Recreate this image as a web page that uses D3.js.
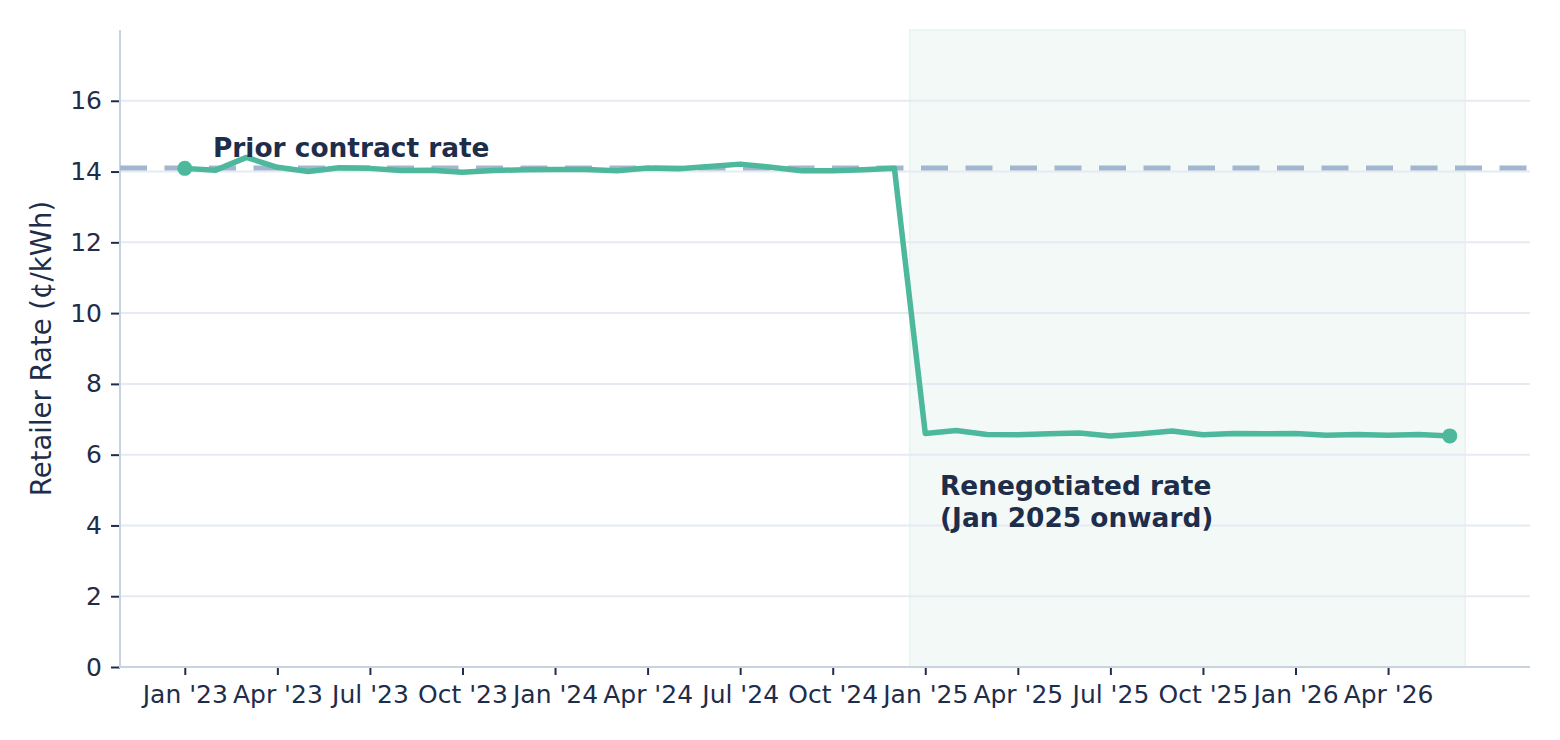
<!DOCTYPE html>
<html lang="en">

<head>
    <meta charset="UTF-8">
    <title>Retailer Rate</title>
    <script src="https://d3js.org/d3.v7.min.js"></script>
    <style>
        body {
            margin: 0;
            background-color: #ffffff;
            font-family: "DejaVu Sans", sans-serif;
        }

        .grid line {
            stroke: #e6ebf1;
            stroke-width: 2px;
        }

        .axis text {
            font-family: "DejaVu Sans", sans-serif;
            font-size: 25px;
            fill: #1e2d4a;
        }

        .axis .tick line {
            stroke: #1e2d4a;
            stroke-width: 2px;
        }

        .axis path {
            display: none;
        }

        .spine {
            stroke: #c9d3e0;
            stroke-width: 2px;
        }

        .note {
            font-size: 26.4px;
            font-weight: bold;
            fill: #1e2d4a;
        }
    </style>
</head>

<body>
    <svg id="chart" width="1560" height="740"></svg>

    <script>
        // monthly retailer rate, Jan 2023 .. Jun 2026 (cents/kWh)
        const rates2023 = [14.09, 14.04, 14.40, 14.12, 14.00, 14.11, 14.09, 14.03, 14.04, 13.98, 14.03, 14.05];
        const rates2024 = [14.06, 14.06, 14.02, 14.10, 14.08, 14.14, 14.21, 14.12, 14.02, 14.02, 14.05, 14.09];
        const rates2025 = [6.60, 6.68, 6.57, 6.56, 6.59, 6.61, 6.53, 6.59, 6.67, 6.56, 6.60, 6.59];
        const rates2026 = [6.60, 6.55, 6.57, 6.55, 6.57, 6.53];
        const rates = [].concat(rates2023, rates2024, rates2025, rates2026);

        const priorRate = 14.1;

        // tick labels every 3 months, starting Jan '23
        const tickLabels = ["Jan '23", "Apr '23", "Jul '23", "Oct '23", "Jan '24", "Apr '24", "Jul '24",
            "Oct '24", "Jan '25", "Apr '25", "Jul '25", "Oct '25", "Jan '26", "Apr '26"];
        const yTicks = [0, 2, 4, 6, 8, 10, 12, 14, 16];

        // renegotiated period (month index, Jan '25 = 24)
        const shadeStart = 23.5;
        const shadeEnd = 41.5;

        const svg = d3.select("#chart");
        const plotLeft = 120, plotRight = 1530, plotTop = 30, plotBottom = 667;

        const x = d3.scaleLinear().domain([-2.1, 43.6]).range([plotLeft, plotRight]);
        const y = d3.scaleLinear().domain([0, 18]).range([plotBottom, plotTop]);

        // shaded region
        svg.append("rect")
            .attr("x", x(shadeStart))
            .attr("y", plotTop)
            .attr("width", x(shadeEnd) - x(shadeStart))
            .attr("height", plotBottom - plotTop)
            .attr("fill", "#f3f9f7")
            .attr("stroke", "#e7f3ee")
            .attr("stroke-width", 1.5);

        // horizontal grid
        svg.append("g")
            .attr("class", "grid")
            .selectAll("line")
            .data(yTicks.filter(d => d > 0))
            .enter().append("line")
            .attr("x1", plotLeft)
            .attr("x2", plotRight)
            .attr("y1", d => y(d))
            .attr("y2", d => y(d));

        // axes
        const xAxis = d3.axisBottom(x)
            .tickValues(tickLabels.map((d, i) => i * 3))
            .tickFormat((d, i) => tickLabels[i])
            .tickSize(8)
            .tickPadding(10);

        svg.append("g")
            .attr("class", "axis")
            .attr("transform", `translate(0,${plotBottom})`)
            .call(xAxis);

        const yAxis = d3.axisLeft(y)
            .tickValues(yTicks)
            .tickSize(9)
            .tickPadding(9);

        svg.append("g")
            .attr("class", "axis")
            .attr("transform", `translate(${plotLeft},0)`)
            .call(yAxis);

        svg.append("line").attr("class", "spine")
            .attr("x1", plotLeft).attr("x2", plotLeft).attr("y1", plotTop).attr("y2", plotBottom + 1);
        svg.append("line").attr("class", "spine")
            .attr("x1", plotLeft).attr("x2", plotRight).attr("y1", plotBottom).attr("y2", plotBottom);

        // y axis label
        svg.append("text")
            .attr("transform", `translate(51,${(plotTop + plotBottom) / 2}) rotate(-90)`)
            .attr("text-anchor", "middle")
            .style("font-size", "27.5px")
            .style("fill", "#1e2d4a")
            .text("Retailer Rate (¢/kWh)");

        // prior contract rate reference
        svg.append("line")
            .attr("x1", plotLeft)
            .attr("x2", plotRight)
            .attr("y1", y(priorRate))
            .attr("y2", y(priorRate))
            .attr("stroke", "#a3b6cf")
            .attr("stroke-width", 5)
            .attr("stroke-dasharray", "27,17.5");

        // rate line
        const line = d3.line()
            .x((d, i) => x(i))
            .y(d => y(d));

        svg.append("path")
            .datum(rates)
            .attr("d", line)
            .attr("fill", "none")
            .attr("stroke", "#4db89b")
            .attr("stroke-width", 5.5)
            .attr("stroke-linejoin", "round");

        // first and last points
        svg.selectAll(".end-dot")
            .data([0, rates.length - 1])
            .enter().append("circle")
            .attr("class", "end-dot")
            .attr("cx", d => x(d))
            .attr("cy", d => y(rates[d]))
            .attr("r", 7.5)
            .attr("fill", "#4db89b");

        // annotations
        svg.append("text")
            .attr("class", "note")
            .attr("x", 213)
            .attr("y", 157)
            .text("Prior contract rate");

        const reneg = svg.append("text")
            .attr("class", "note")
            .attr("x", 940)
            .attr("y", 495);
        reneg.append("tspan").attr("x", 940).text("Renegotiated rate");
        reneg.append("tspan").attr("x", 940).attr("dy", 31.5).text("(Jan 2025 onward)");
    </script>
</body>

</html>
